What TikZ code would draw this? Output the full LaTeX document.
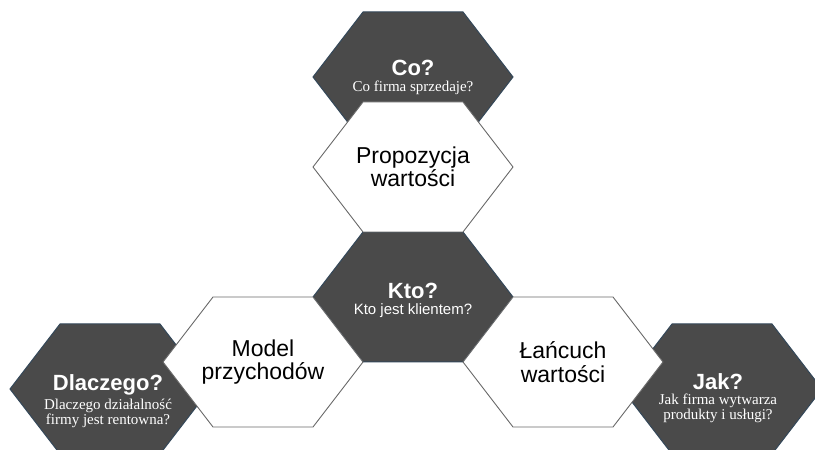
\documentclass[tikz,border=0pt]{standalone}
\usepackage{fontspec}
\setmainfont{Liberation Serif}
\setsansfont{Liberation Sans}
\usetikzlibrary{positioning}

\definecolor{hexgray}{RGB}{74,74,74}
\definecolor{hexedge}{RGB}{52,72,90}
\definecolor{linegray}{RGB}{105,105,105}

\tikzset{
    hexa/.pic={\path[pic actions] (-100,0) -- (-50,65) -- (50,65) -- (100,0) -- (50,-65) -- (-50,-65) -- cycle;},
    darkhex/.style={fill=hexgray, draw=hexedge, line width=1pt},
    lighthex/.style={fill=white, draw=linegray, line width=0.9pt},
    title/.style={inner sep=0pt, text=white, font=\sffamily\bfseries\fontsize{22}{22}\selectfont},
    subtitle/.style={inner sep=0pt, text=white, align=center, font=\fontsize{15}{13}\selectfont},
    label/.style={inner sep=0pt, align=center, font=\sffamily\fontsize{23}{23.5}\selectfont}
}

\begin{document}
\begin{tikzpicture}[x=1pt,y=1pt]
        \useasboundingbox (0,0) rectangle (815,450);
        \clip (0,0) rectangle (815,450);

        % Centres of the cells
        \coordinate (co) at (413,373);
        \coordinate (prop) at (413,283);
        \coordinate (kto) at (413,153);
        \coordinate (model) at (263,88);
        \coordinate (lanc) at (563,88);
        \coordinate (dla) at (110,61);
        \coordinate (jak) at (722,61);

        % Dark cells
        \pic[darkhex] at (co) {hexa};
        \pic[darkhex] at (dla) {hexa};
        \pic[darkhex] at (jak) {hexa};
        \pic[darkhex] at (kto) {hexa};

        % White cells
        \pic[lighthex] at (prop) {hexa};
        \pic[lighthex] at (model) {hexa};
        \pic[lighthex] at (lanc) {hexa};

        % Questions
        \node[title] (coT) at (413,382) {Co?};
        \node[subtitle, below=4.5pt of coT] (coS) {Co firma sprzedaje?};

        \node[title] (ktoT) at (413,159) {Kto?};
        \node[subtitle, below=4.5pt of ktoT, font=\sffamily\fontsize{15}{13}\selectfont] (ktoS) {Kto jest klientem?};

        \node[title] (dlaT) at (108,65) {Dlaczego?};
        \node[subtitle, below=3.5pt of dlaT] (dlaS) {Dlaczego działalność\\firmy jest rentowna?};

        \node[title] (jakT) at (718,68) {Jak?};
        \node[subtitle, below=3.5pt of jakT] (jakS) {Jak firma wytwarza\\produkty i usługi?};

        % Labels of the white cells
        \node[label] (propL) at (prop) {Propozycja\\wartości};
        \node[label] (modelL) at (model) {Model\\przychodów};
        \node[label] (lancL) at (lanc) {Łańcuch\\wartości};
\end{tikzpicture}
\end{document}
